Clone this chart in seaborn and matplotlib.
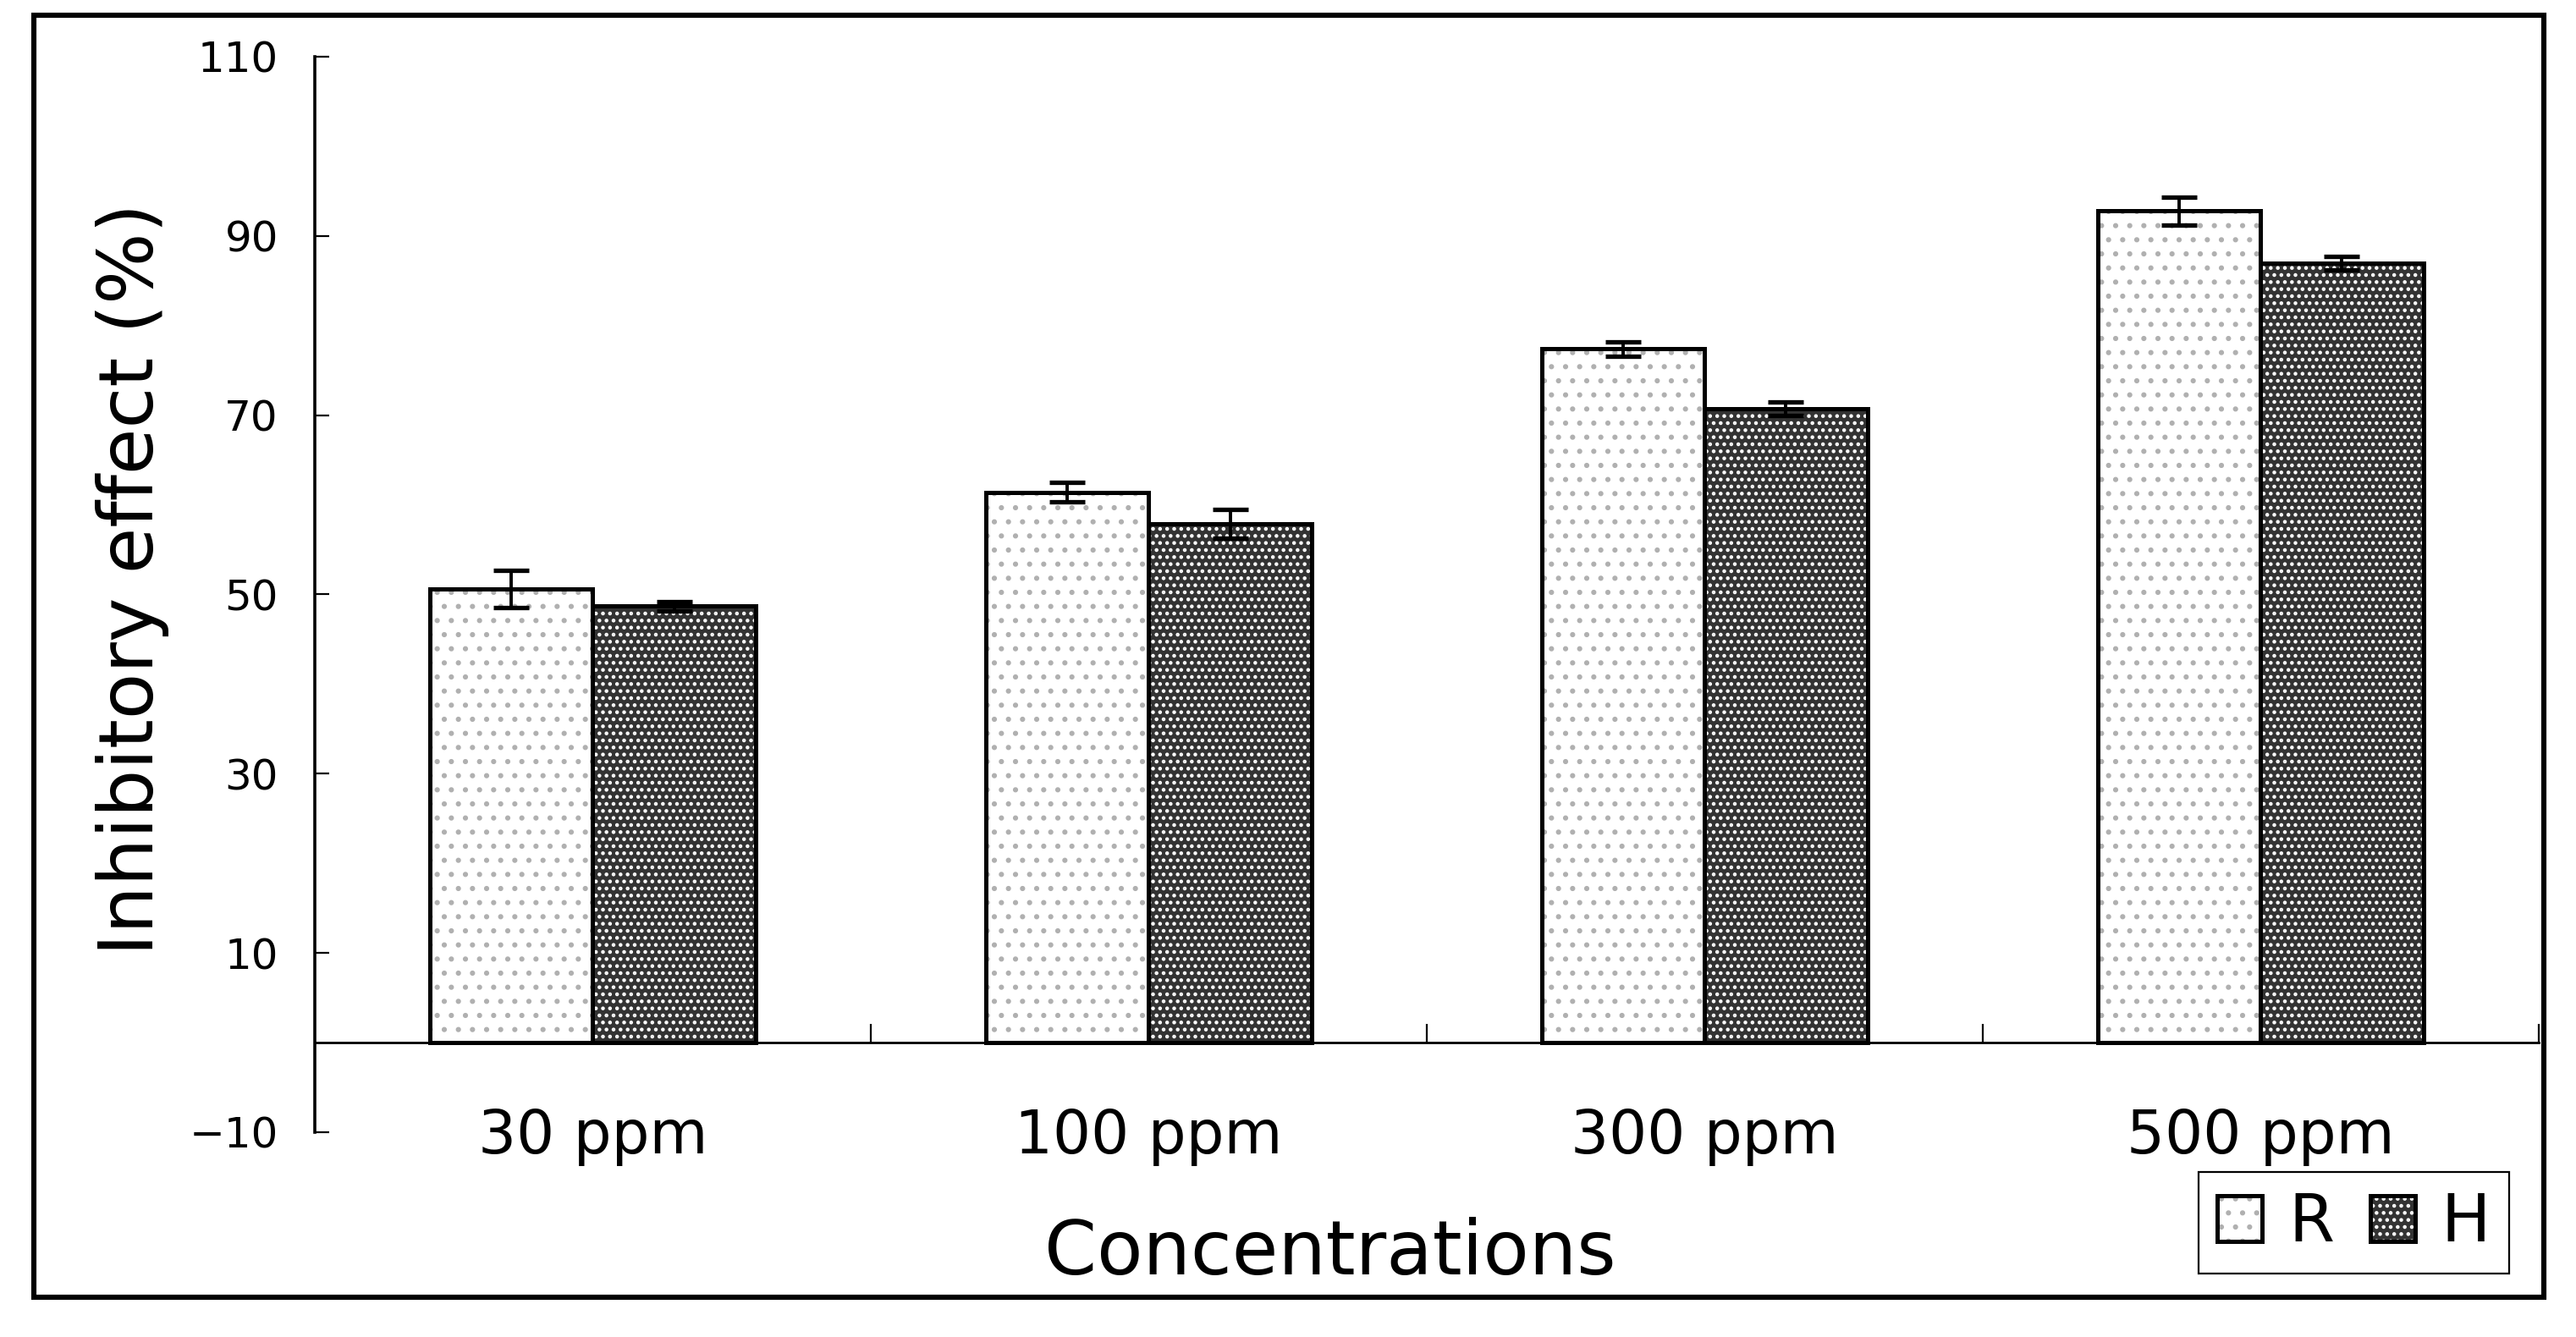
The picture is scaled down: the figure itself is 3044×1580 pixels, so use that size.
import matplotlib
matplotlib.use("Agg")
import matplotlib.pyplot as plt
from matplotlib.patches import Rectangle, Patch
from matplotlib.legend_handler import HandlerTuple
import pandas as pd
import seaborn as sns

# values
concentrations = ["30 ppm", "100 ppm", "300 ppm", "500 ppm"]
groups = ["R", "H"]
r_mean = [50.6, 61.4, 77.4, 92.8]
r_err = [2.05, 1.1, 0.8, 1.55]
h_mean = [48.7, 57.9, 70.7, 87.0]
h_err = [0.5, 1.6, 0.75, 0.75]
yticks = [-10, 10, 30, 50, 70, 90, 110]

df = pd.DataFrame({
    "conc": concentrations * 2,
    "group": ["R"] * len(r_mean) + ["H"] * len(h_mean),
    "value": r_mean + h_mean,
    "err": r_err + h_err,
})

sns.set_style("white", {"axes.edgecolor": "black", "text.color": "black",
                        "xtick.color": "black", "ytick.color": "black",
                        "axes.labelcolor": "black"})
plt.rcParams["font.family"] = ["DejaVu Sans"]
plt.rcParams["hatch.linewidth"] = 1.0

face = {"R": "white", "H": "#333333"}
hatch = {"R": "..", "H": "...."}
hatch_col = {"R": "#b0b0b0", "H": "white"}


def style_hatch(p, grp):
    p.set_hatch(hatch[grp])
    p.set_edgecolor(hatch_col[grp])
    p.set_linewidth(0)


fig = plt.figure(figsize=(15.22, 7.9), dpi=200)
ax = fig.add_axes([0.1222, 0.1532, 0.8633, 0.8044])

sns.barplot(data=df, x="conc", y="value", hue="group", order=concentrations,
            hue_order=groups, palette=face, saturation=1, width=0.585,
            linewidth=0, errorbar=None, legend=False, ax=ax)

for grp, cont in zip(groups, ax.containers):
    sub = df[df["group"] == grp]
    xs = []
    for bar in cont:
        style_hatch(bar, grp)
        ax.add_patch(Rectangle(bar.get_xy(), bar.get_width(), bar.get_height(),
                               fill=False, edgecolor="black", linewidth=1.8,
                               zorder=3))
        xs.append(bar.get_x() + bar.get_width() / 2)
    ax.errorbar(xs, sub["value"], yerr=sub["err"], fmt="none", ecolor="black",
                elinewidth=1.4, capsize=7.5, capthick=1.9, zorder=4)

ax.set_xlim(-0.5, 3.5)
ax.set_ylim(-10, 110)
ax.set_yticks(yticks)
ax.spines["top"].set_visible(False)
ax.spines["right"].set_visible(False)
ax.spines["bottom"].set_position(("data", 0))
ax.spines["bottom"].set_linewidth(1.0)
ax.spines["left"].set_linewidth(1.3)
ax.tick_params(axis="y", left=True, direction="in", length=6, width=0.8,
               pad=15.5, labelsize=18)
ax.tick_params(axis="x", which="major", bottom=True, length=0, pad=27.7,
               labelsize=25.5)
ax.set_xticks([0.5, 1.5, 2.5, 3.5], minor=True)
ax.tick_params(axis="x", which="minor", bottom=True, direction="in",
               length=8, width=0.8)

ax.set_xlabel("Concentrations", fontsize=32)
ax.xaxis.set_label_coords(0.5164, 0.0468, transform=fig.transFigure)
ax.xaxis.label.set_va("baseline")
ax.set_ylabel("Inhibitory effect (%)", fontsize=32)
ax.yaxis.set_label_coords(0.0657, 0.567, transform=fig.transFigure)

handles = []
for grp in groups:
    fill_p = Patch(facecolor=face[grp])
    style_hatch(fill_p, grp)
    edge_p = Patch(fill=False, edgecolor="black", linewidth=1.8)
    handles.append((fill_p, edge_p))
leg = ax.legend(handles, groups, handler_map={tuple: HandlerTuple(ndivide=1)},
                ncol=2, loc="lower right",
                bbox_to_anchor=(2965 / 3044, 1 - 1505 / 1580),
                bbox_transform=fig.transFigure, frameon=True, fancybox=False,
                framealpha=1, edgecolor="black", fontsize=28,
                handlelength=0.68, handleheight=0.68, handletextpad=0.4,
                columnspacing=0.55, borderpad=0.28, borderaxespad=0)
leg.get_frame().set_linewidth(0.8)

# outer frame around the whole chart
fig.add_artist(Rectangle((0.01314, 0.02975), 0.9744, 0.9589,
                         transform=fig.transFigure, fill=False,
                         edgecolor="black", linewidth=2.2))

fig.savefig("out.png", dpi=200)
